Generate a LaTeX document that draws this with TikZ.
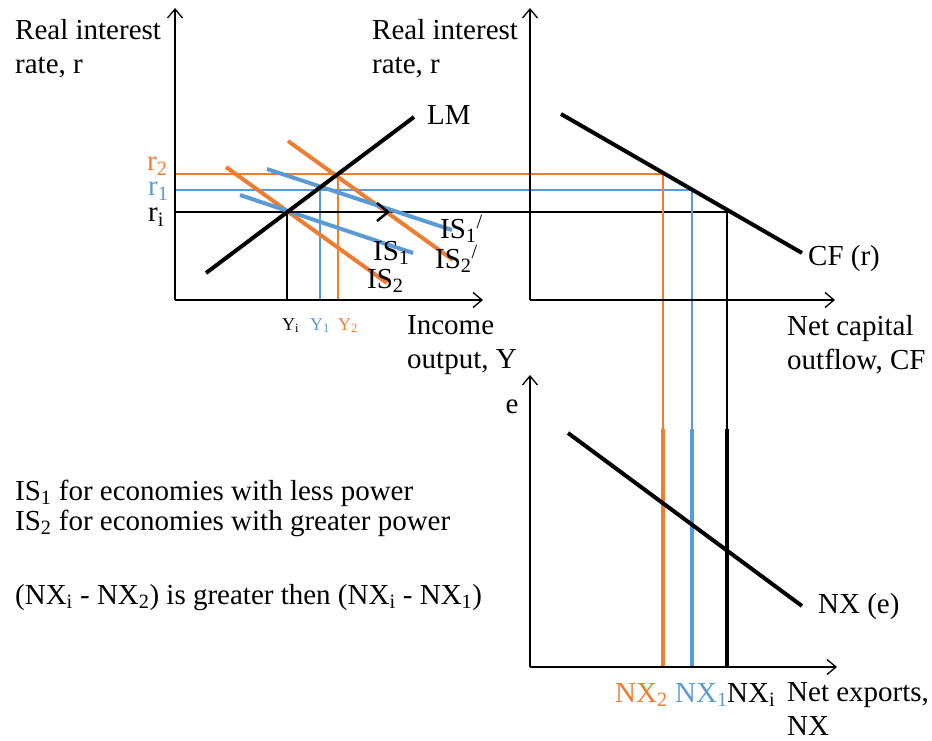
\documentclass[tikz,border=0pt]{standalone}
\usepackage{fontspec}
\setmainfont{Liberation Serif}
\usetikzlibrary{arrows.meta}
\definecolor{isorange}{HTML}{ED7D31}
\definecolor{isblue}{HTML}{5B9BD5}
\newcommand{\sbs}[1]{\textsubscript{#1}}

\begin{document}
\begin{tikzpicture}[x=1pt,y=-1pt,
  axis/.style={line width=1.3pt,-{Straight Barb[length=9pt,width=15pt]}},
  curve/.style={line width=4pt},
  guide/.style={line width=1.1pt},
  txt/.style={inner sep=0pt,font=\fontsize{29}{34}\selectfont},
  tick/.style={inner sep=0pt,font=\fontsize{18}{20}\selectfont}]
\useasboundingbox (0,0) rectangle (932,741);
% key points
\coordinate (Ei) at (287,212);
\coordinate (E1) at (320,190);
\coordinate (E2) at (338,174);
\coordinate (Ci) at (727,212);
\coordinate (C1) at (692,190);
\coordinate (C2) at (663,174);
% guide lines
\draw[guide] (175,212) -- (Ci) -- (727,667);
\draw[guide] (Ei) -- (287,300);
\draw[guide,isblue] (175,190) -- (C1) -- (692,667);
\draw[guide,isblue] (E1) -- (320,300);
\draw[guide,isorange] (175,174) -- (C2) -- (663,667);
\draw[guide,isorange] (E2) -- (338,300);
\draw[curve] (727,429) -- (727,667);
\draw[curve,isblue] (692,429) -- (692,667);
\draw[curve,isorange] (663,429) -- (663,667);
% curves
\draw[curve,isorange] (226,167) -- (387,283);
\draw[curve,isorange] (288,141) -- (453,260);
\draw[curve,isblue] (240,195) -- (413,253);
\draw[curve,isblue] (267,169) -- (452,230);
\draw[curve] (206,273) -- (414,117);
\draw[curve] (561,114) -- (802,253);
\draw[curve] (568,433) -- (802,606);
\draw[line width=2.5pt,-{Straight Barb[length=11pt,width=18pt]}] (Ei) -- (390,212);
% axes
\draw[axis] (175,300) -- (175,8);
\draw[axis] (175,300) -- (483,300);
\draw[axis] (530,300) -- (530,8);
\draw[axis] (530,300) -- (835,300);
\draw[axis] (530,667) -- (530,375);
\draw[axis] (530,667) -- (837,667);
% labels
\node[txt,align=left,anchor=north west] (rateL) at (15,19) {Real interest\\rate, r};
\node[txt,align=left,anchor=north west] (rateR) at (372,19) {Real interest\\rate, r};
\node[txt,align=left,anchor=north west] (income) at (407,315) {Income\\output, Y};
\node[txt,align=left,anchor=north west] (cflow) at (787,315) {Net capital\\outflow, CF};
\node[txt,align=left,anchor=north west] (nexp) at (787,682) {Net exports,\\NX};
\node[txt,anchor=base] (elab) at (512,413) {e};
\node[txt,anchor=base west] (lm) at (427,125) {LM};
\node[txt,anchor=base west] (cfr) at (808,265) {CF (r)};
\node[txt,anchor=base west] (nxe) at (818,613) {NX (e)};
\node[txt,anchor=base west] (is1) at (373,260) {IS\sbs{1}};
\node[txt,anchor=base west] (is2) at (367,288) {IS\sbs{2}};
\node[txt,anchor=base west] (is1p) at (440,238) {IS\sbs{1}\textsuperscript{/}};
\node[txt,anchor=base west] (is2p) at (435,268) {IS\sbs{2}\textsuperscript{/}};
\node[txt,anchor=base west,isorange] (r2) at (147,171) {r\sbs{2}};
\node[txt,anchor=base west,isblue] (r1) at (148,196) {r\sbs{1}};
\node[txt,anchor=base west] (ri) at (148,222) {r\sbs{i}};
\node[tick,anchor=base west] (yi) at (282,330) {Y\sbs{i}};
\node[tick,anchor=base west,isblue] (y1) at (310,330) {Y\sbs{1}};
\node[tick,anchor=base west,isorange] (y2) at (338,330) {Y\sbs{2}};
\node[txt,anchor=base west,isorange] (nx2) at (615,702) {NX\sbs{2}};
\node[txt,anchor=base west,isblue] (nx1) at (675,702) {NX\sbs{1}};
\node[txt,anchor=base west] (nxi) at (727,702) {NX\sbs{i}};
% notes
\node[txt,anchor=base west] (note1) at (15,500) {IS\sbs{1} for economies with less power};
\node[txt,anchor=base west] (note2) at (15,530) {IS\sbs{2} for economies with greater power};
\node[txt,anchor=base west] (note3) at (15,604) {(NX\sbs{i} - NX\sbs{2}) is greater then (NX\sbs{i} - NX\sbs{1})};
\end{tikzpicture}
\end{document}
